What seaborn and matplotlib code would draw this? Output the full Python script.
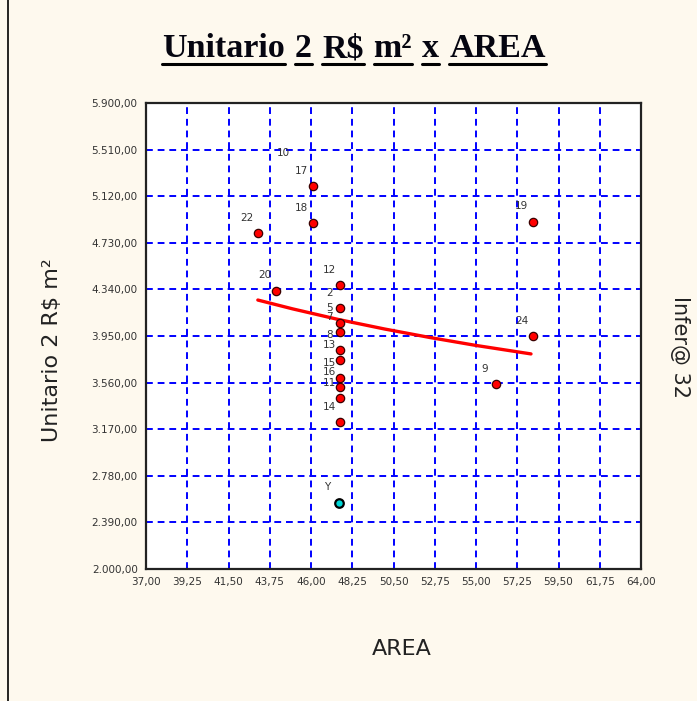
import numpy as np
import pandas as pd
import matplotlib
matplotlib.use("Agg")
import matplotlib.pyplot as plt
import seaborn as sns
from matplotlib.lines import Line2D
from matplotlib.ticker import FuncFormatter

# Observed points (area, unit value) with their labels
point_labels = ['17', '18', '22', '20', '19', '24', '9',
                '12', '2', '5', '7', '8', '13', '15', '16', '11', '14']
area = [46.1, 46.1, 43.1, 44.1, 58.1, 58.1, 56.1,
        47.6, 47.6, 47.6, 47.6, 47.6, 47.6, 47.6, 47.6, 47.6, 47.6]
unit = [5206, 4893, 4810, 4329, 4907, 3950, 3549,
        4377, 4184, 4059, 3983, 3833, 3749, 3599, 3523, 3431, 3230]

# label whose point is hidden
hidden_label = ['10']
hidden_area = [45.1]
hidden_unit = [5356]

# estimated point "Y"
est_area = [47.5]
est_unit = [2555]

# fitted curve
fit_area = [43.1, 45.0, 47.5, 50.0, 52.5, 55.0, 58.0]
fit_unit = [4251, 4177, 4088, 4009, 3937, 3871, 3800]

xticks = [37.0, 39.25, 41.5, 43.75, 46.0, 48.25, 50.5, 52.75, 55.0, 57.25, 59.5, 61.75, 64.0]
yticks = [2000, 2390, 2780, 3170, 3560, 3950, 4340, 4730, 5120, 5510, 5900]

df = pd.DataFrame({'AREA': area, 'Unit': unit, 'label': point_labels})

sns.set_style("white")
plt.rcParams['font.family'] = ['DejaVu Sans']

bg = '#fef9ee'
W, H = 697, 701
fig = plt.figure(figsize=(W / 100, H / 100), dpi=100, facecolor=bg)
ax = fig.add_axes([146 / W, 1 - 569 / H, 495 / W, 466 / H])
ax.set_facecolor('white')

ax.grid(True, color='#0000ff', linestyle=(0, (3.5, 2.5)), linewidth=1.4)
ax.set_axisbelow(True)

sns.lineplot(x=fit_area, y=fit_unit, color='#ff0000', linewidth=2.4, sort=False, ax=ax, zorder=3)
sns.scatterplot(data=df, x='AREA', y='Unit', color='#ff0000', edgecolor='#3a0000',
                linewidth=0.9, s=36, ax=ax, zorder=4)
sns.scatterplot(x=est_area, y=est_unit, color='#00d8d8', edgecolor='black',
                linewidth=1.6, s=38, ax=ax, zorder=4)

for lab, xv, yv in zip(point_labels + hidden_label + ['Y'],
                       area + hidden_area + est_area,
                       unit + hidden_unit + est_unit):
    ax.annotate(lab, (xv, yv), xytext=(-8, 11), textcoords='offset points',
                ha='center', va='center', fontsize=7.5, color='#333333', zorder=5)

ax.set_xlim(37, 64)
ax.set_ylim(2000, 5900)
ax.set_xticks(xticks)
ax.set_yticks(yticks)


def br_fmt(v, pos):
    return f"{v:,.2f}".replace(',', 'X').replace('.', ',').replace('X', '.')


ax.xaxis.set_major_formatter(FuncFormatter(br_fmt))
ax.yaxis.set_major_formatter(FuncFormatter(br_fmt))
ax.tick_params(direction='out', length=4, width=1, color='black', labelsize=7.5,
               labelcolor='#333333', pad=2)
for sp in ax.spines.values():
    sp.set_color('#222222')
    sp.set_linewidth(1.6)

ax.set_xlabel('AREA', fontsize=16, color='#222222', labelpad=0)
ax.xaxis.set_label_coords(0.517, -0.15)
ax.set_ylabel('Unitario 2 R$ m²', fontsize=16, color='#222222')
ax.yaxis.set_label_coords(-0.17, 0.47)

fig.text(0.975, 0.505, 'Infer@ 32', rotation=270, ha='center', va='center',
         fontsize=15, color='#222222')

fig.add_artist(Line2D([8 / W, 8 / W], [0, 1], color='black', linewidth=1.2))

# underlined title, word by word
title = 'Unitario 2 R$ m² x AREA'
fig.canvas.draw()
r = fig.canvas.get_renderer()
words = title.split(' ')
texts = []
widths = []
for w in words:
    t = fig.text(0, 1 - 57 / H, w, fontsize=24.5, fontweight='bold',
                 family='Liberation Serif', va='baseline', ha='left', color='#050510')
    texts.append(t)
    widths.append(t.get_window_extent(r).width)
gap = 10
total = sum(widths) + gap * (len(words) - 1)
x = 354 - total / 2
for t, wd in zip(texts, widths):
    t.set_x(x / W)
    fig.add_artist(Line2D([x / W, (x + wd) / W], [1 - 64 / H] * 2,
                          color='black', linewidth=2.2))
    x += wd + gap

fig.savefig('out.png', dpi=100, facecolor=bg)
